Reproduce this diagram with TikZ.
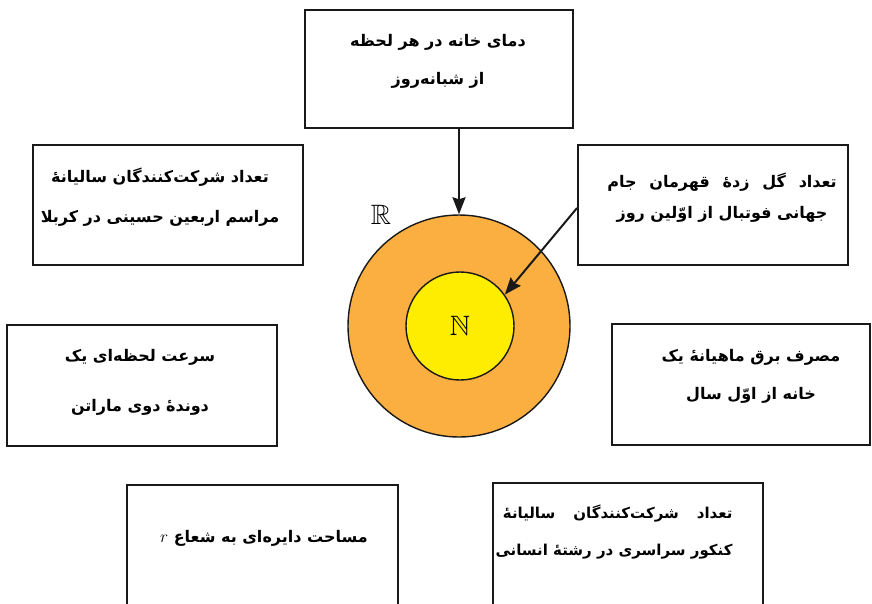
\documentclass[tikz,border=0pt]{standalone}
\usepackage{amssymb}
\usepackage{fontspec}
\usetikzlibrary{arrows.meta}
\newfontfamily\fafont[Script=Arabic]{DejaVu Sans}
\TeXXeTstate=1
\definecolor{ringorange}{HTML}{FBAF41}
\definecolor{coreyellow}{HTML}{FFED00}
\newcommand{\fa}[1]{\beginR #1\endR}
\newcommand{\wsp}{\hspace{0.8em}}
\newcommand{\wwsp}{\hspace{1.2em}}
\tikzset{
  frame/.style={draw=black!90,line width=2pt,rectangle,inner sep=0pt},
  fatxt/.style={font=\fafont\bfseries\fontsize{16}{38}\selectfont,align=center,inner sep=0pt},
  setc/.style={draw=black!90,line width=1.4pt,circle,inner sep=0pt},
  setlab/.style={font=\fontsize{28}{30}\selectfont,inner sep=0pt},
  arr/.style={draw=black!90,line width=2pt,-{Stealth[length=17pt,width=13pt,inset=2pt]}},
}
\begin{document}
\begin{tikzpicture}[x=1pt,y=-1pt]
  \useasboundingbox (0,0) rectangle (872,603);
  \clip (0,0) rectangle (872,603);
  % the two sets
  \node[setc,fill=ringorange,minimum size=222pt] (outR) at (459,326) {};
  \node[setc,fill=coreyellow,minimum size=108pt,setlab] (inN) at (460,326) {$\mathbb{N}$};
  \node[setlab] (lblR) at (381,215) {$\mathbb{R}$};
  % boxes
  \node[frame,minimum width=268pt,minimum height=118pt] (top) at (439,69) {};
  \node[frame,minimum width=270pt,minimum height=120pt] (lt) at (168,205) {};
  \node[frame,minimum width=270pt,minimum height=120pt] (rt) at (713,205) {};
  \node[frame,minimum width=270pt,minimum height=121pt] (lm) at (142,385.5) {};
  \node[frame,minimum width=258pt,minimum height=121pt] (rm) at (741,384.5) {};
  \node[frame,minimum width=271pt,minimum height=200pt] (bl) at (262.5,585) {};
  \node[frame,minimum width=270pt,minimum height=200pt] (br) at (628,583) {};
  % texts
  \node[fatxt] (topT) at (438,61) {\fa{دمای خانه در هر لحظه}\\\fa{از شبانه^^^^200cروز}};
  \node[fatxt] (ltT) at (160,197) {\fa{تعداد شرکت^^^^200cکنندگان سالیانهٔ}\\[2pt]\fa{مراسم اربعین حسینی در کربلا}};
  \node[fatxt] (rtT) at (722,197.5) {\fa{تعداد\wsp گل\wsp زدهٔ\wsp قهرمان\wsp جام}\\[-7pt]\fa{جهانی فوتبال از اوّلین روز}};
  \node[fatxt] (lmT) at (140,382) {\fa{سرعت لحظه^^^^200cای یک}\\[12pt]\fa{دوندهٔ دوی ماراتن}};
  \node[fatxt] (rmT) at (751,376) {\fa{مصرف برق ماهیانهٔ یک}\\\fa{خانه از اوّل سال}};
  \node[fatxt] (blT) at (264,538) {\fa{مساحت دایره^^^^200cای به شعاع $r$}};
  \node[fatxt,font=\fafont\bfseries\fontsize{15}{38}\selectfont,align=right] (brT) at (614,531.5) {\fa{تعداد\wwsp شرکت^^^^200cکنندگان\wwsp سالیانهٔ}\\[-1pt]\fa{کنکور سراسری در رشتهٔ انسانی}};
  % arrows
  \draw[arr] (outR.north |- top.south) -- (outR.north);
  \draw[arr] ([yshift=-3pt]rt.west) -- (inN.35);
\end{tikzpicture}
\end{document}
